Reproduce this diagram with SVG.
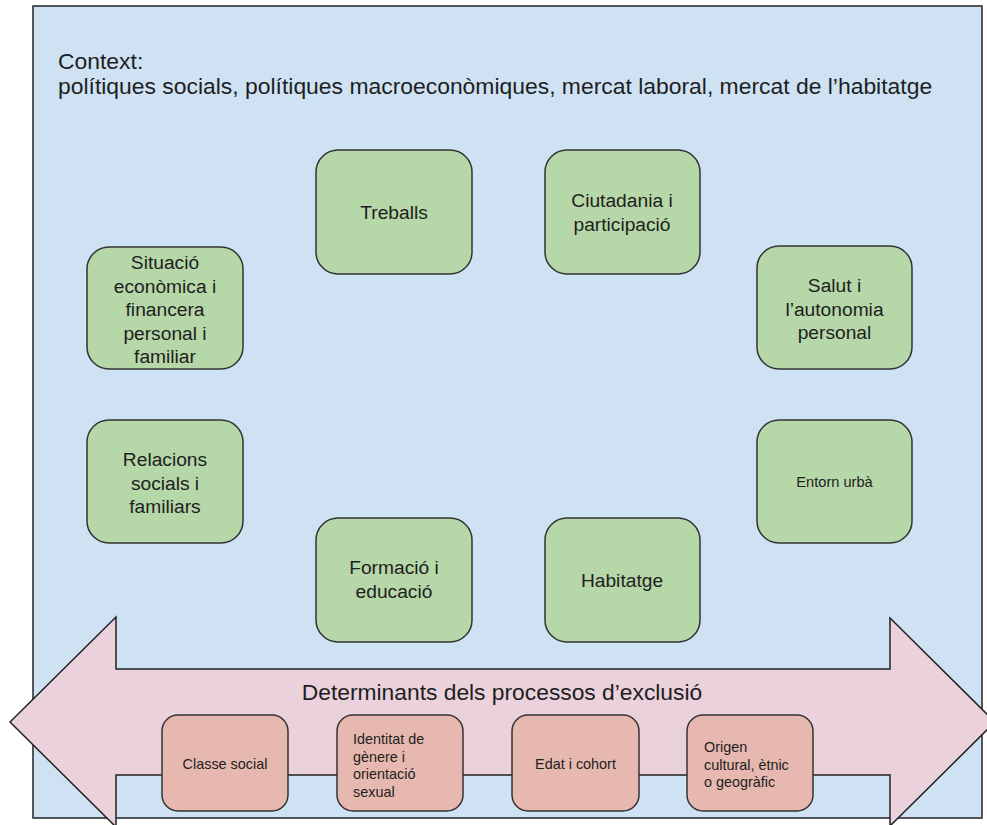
<svg xmlns="http://www.w3.org/2000/svg" width="987" height="825" viewBox="0 0 987 825">
<style>
text{font-family:"Liberation Sans",Arial,sans-serif;fill:#1e1e1e}
.ctx{font-size:22.9px}
.g rect{fill:#b6d7a8;stroke:#333;stroke-width:1.5}
.p rect{fill:#e6b8af;stroke:#333;stroke-width:1.5}
.gt{font-size:19.2px;text-anchor:middle}
.pt{font-size:14.4px}
.c{text-anchor:middle}
</style>
<rect id="context" x="33" y="6" width="949" height="812" fill="#cfe2f3" stroke="#222" stroke-width="1.5"/>
<text class="ctx" x="58" y="69">Context:</text>
<text class="ctx" x="58" y="94">polítiques socials, polítiques macroeconòmiques, mercat laboral, mercat de l’habitatge</text>

<g id="treballs" class="g"><rect x="316" y="150" width="156" height="124" rx="22"/><text class="gt" x="394" y="219">Treballs</text></g>
<g id="ciutadania" class="g"><rect x="545" y="150" width="155" height="124" rx="22"/><text class="gt" x="622" y="207">Ciutadania i</text><text class="gt" x="622" y="231">participació</text></g>
<g id="situacio" class="g"><rect x="87" y="247" width="156" height="122" rx="22"/><text class="gt"><tspan x="165" y="269">Situació</tspan><tspan x="165" y="292.5">econòmica i</tspan><tspan x="165" y="316">financera</tspan><tspan x="165" y="339.5">personal i</tspan><tspan x="165" y="363">familiar</tspan></text></g>
<g id="salut" class="g"><rect x="757" y="246" width="155" height="123" rx="22"/><text class="gt"><tspan x="834.5" y="292">Salut i</tspan><tspan x="834.5" y="315.5">l’autonomia</tspan><tspan x="834.5" y="339">personal</tspan></text></g>
<g id="relacions" class="g"><rect x="87" y="420" width="156" height="123" rx="22"/><text class="gt"><tspan x="165" y="466">Relacions</tspan><tspan x="165" y="489.5">socials i</tspan><tspan x="165" y="513">familiars</tspan></text></g>
<g id="entorn" class="g"><rect x="757" y="420" width="155" height="123" rx="22"/><text x="834.5" y="487" style="font-size:14.6px;text-anchor:middle">Entorn urbà</text></g>
<g id="formacio" class="g"><rect x="316" y="518" width="156" height="124" rx="22"/><text class="gt" x="394" y="574">Formació i</text><text class="gt" x="394" y="598">educació</text></g>
<g id="habitatge" class="g"><rect x="545" y="518" width="155" height="124" rx="22"/><text class="gt" x="622" y="587">Habitatge</text></g>

<g id="determinants">
<polygon points="10,722 116,617 116,669 890,669 890,618 995,722 890,826 890,775 116,775 116,827" fill="#ead1dc" stroke="#222" stroke-width="1.5"/>
<text x="502" y="700" style="font-size:22.8px;text-anchor:middle">Determinants dels processos d’exclusió</text>
</g>

<g id="classe" class="p"><rect x="162" y="715" width="126" height="96" rx="16"/><text class="pt c" x="225" y="769">Classe social</text></g>
<g id="identitat" class="p"><rect x="337" y="715" width="126" height="96" rx="16"/><text class="pt"><tspan x="353" y="744">Identitat de</tspan><tspan x="353" y="761.5">gènere i</tspan><tspan x="353" y="779">orientació</tspan><tspan x="353" y="796.5">sexual</tspan></text></g>
<g id="edat" class="p"><rect x="512" y="715" width="127" height="96" rx="16"/><text class="pt c" x="575.5" y="769">Edat i cohort</text></g>
<g id="origen" class="p"><rect x="687" y="715" width="126" height="96" rx="16"/><text class="pt"><tspan x="704" y="752">Origen</tspan><tspan x="704" y="769.5">cultural, ètnic</tspan><tspan x="704" y="787">o geogràfic</tspan></text></g>
</svg>
